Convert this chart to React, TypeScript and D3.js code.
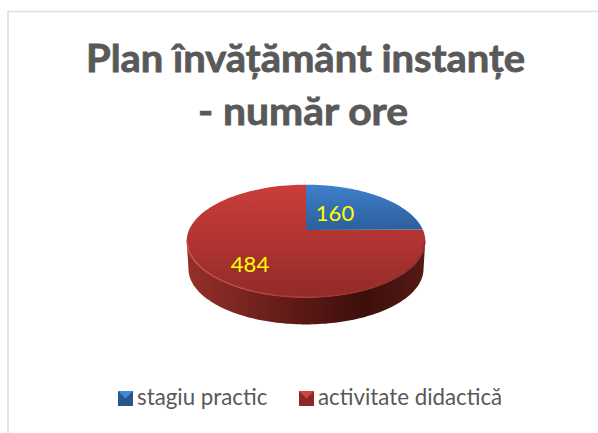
import React from "react";
import * as d3 from "d3";

const categories = ["stagiu practic", "activitate didactică"];
const hours = [160, 484];
const chartTitle = ["Plan învățământ instanțe", "- număr ore"];
const titleWidths = [439, 210];
const titleCentres = [305.5, 303];

const width = 598;
const height = 433;
const apex = { x: 306, y: 230 };
const tilt = 0.196;

// tilted disc, the near side is drawn larger than the far side
const project = (angle: number, scale = 1, dy = 0): [number, number] => {
  const s = -Math.cos(angle);
  const w = 1 - tilt * s;
  return [
    apex.x + (scale * 117 * Math.sin(angle)) / w,
    apex.y + dy + (scale * 54.2 * s) / w,
  ];
};

const line = d3.line();

const sliceOutline = (start: number, end: number) => {
  const steps = d3.range(0, 121).map((i) => start + ((end - start) * i) / 120);
  return line([[apex.x, apex.y], ...steps.map((a) => project(a))]) + "Z";
};

// visible side wall runs between the widest points of the disc
const widest = Math.acos(-tilt);
const frontAngles = d3
  .range(0, 121)
  .map((i) => widest + ((2 * Math.PI - 2 * widest) * i) / 120);

const sideBody = () =>
  line([
    ...frontAngles.map((a) => project(a)),
    ...frontAngles.slice().reverse().map((a) => project(a, 0.985, 28)),
  ]) + "Z";

const frontRim = () => line(frontAngles.map((a) => project(a, 0.995)));

export default function App() {
  const slices = d3.pie<number>().sort(null)(hours);
  return (
    <svg
      width={width}
      height={height}
      style={{ position: "absolute", left: 0, top: 0, background: "#fff" }}
    >
      <defs>
        <linearGradient id="blueTop" x1="0" x2="0" y1="0" y2="1">
          <stop offset="0" stopColor="#3d80cb" />
          <stop offset="1" stopColor="#2d5f9b" />
        </linearGradient>
        <linearGradient id="redTop" x1="0" x2="0" y1="0" y2="1">
          <stop offset="0" stopColor="#cc3d3a" />
          <stop offset="1" stopColor="#922b28" />
        </linearGradient>
        <linearGradient id="redSide" x1="0" x2="1" y1="0" y2="0">
          <stop offset="0" stopColor="#963029" />
          <stop offset="0.45" stopColor="#5f1a17" />
          <stop offset="0.75" stopColor="#3c0f0c" />
          <stop offset="1" stopColor="#551a16" />
        </linearGradient>
        <linearGradient id="rimLight" x1="0" x2="1" y1="0" y2="0">
          <stop offset="0" stopColor="#c9504a" />
          <stop offset="0.6" stopColor="#a8342f" />
          <stop offset="1" stopColor="#8f2a27" />
        </linearGradient>
      </defs>

      {/* chart frame, only top and left survive the crop */}
      <path d="M8,433V11.5H598" fill="none" stroke="#dedede" strokeWidth={1.6} />

      {chartTitle.map((t, i) => (
        <text
          key={t}
          x={titleCentres[i]}
          y={72 + i * 53}
          textAnchor="middle"
          fontFamily="Lato, sans-serif"
          fontWeight={700}
          fontSize={38}
          textLength={titleWidths[i]}
          lengthAdjust="spacingAndGlyphs"
          fill="#595959"
          stroke="#595959"
          strokeWidth={0.8}
        >
          {t}
        </text>
      ))}

      <path d={sideBody()} fill="url(#redSide)" />
      <path d={sliceOutline(slices[1].startAngle, slices[1].endAngle)} fill="url(#redTop)" />
      <path d={sliceOutline(slices[0].startAngle, slices[0].endAngle)} fill="url(#blueTop)" />
      <path d={frontRim() ?? ""} fill="none" stroke="url(#rimLight)" strokeWidth={1.4} />

      <text x={335} y={221} textAnchor="middle" fontFamily="Lato, sans-serif" fontSize={22} fill="#ffff00">
        {hours[0]}
      </text>
      <text x={250} y={272} textAnchor="middle" fontFamily="Lato, sans-serif" fontSize={22} fill="#ffff00">
        {hours[1]}
      </text>

      {categories.map((c, i) => {
        const x = [118, 299][i];
        const dark = i === 0 ? "#2a5589" : "#8c2825";
        const light = i === 0 ? "#3f86d6" : "#cf4541";
        return (
          <g key={c} transform={`translate(${x},391)`}>
            <rect width={15} height={15} fill={dark} />
            <path d="M0,0H15L7.5,7.5Z" fill={light} />
            <text x={19} y={14} fontFamily="Lato, sans-serif" fontSize={22.3} fill="#595959">
              {c}
            </text>
          </g>
        );
      })}
    </svg>
  );
}
